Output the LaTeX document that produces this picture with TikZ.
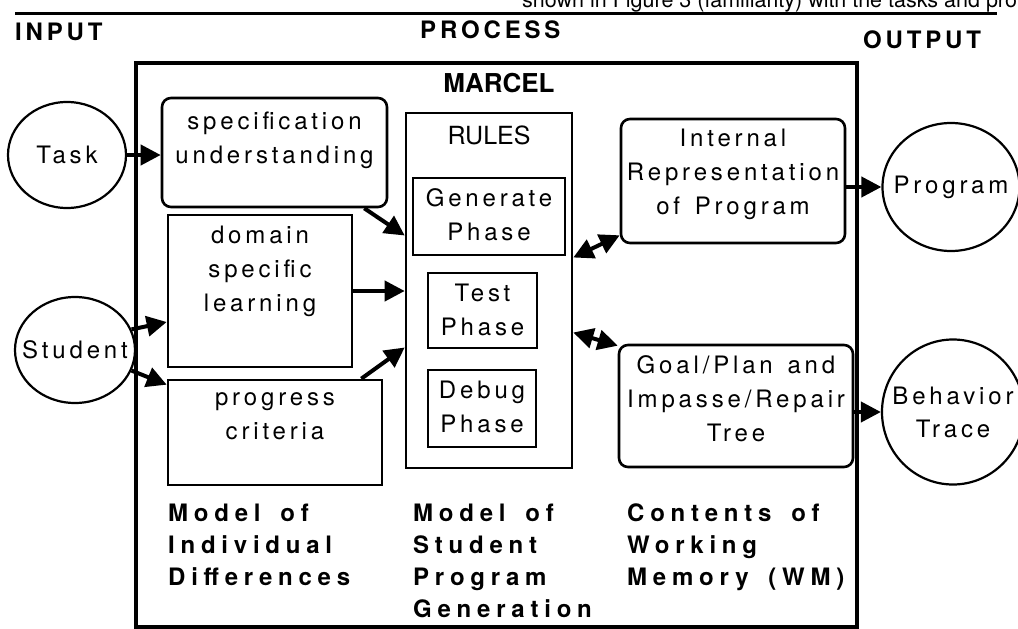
\documentclass[tikz,border=0pt]{standalone}
\usepackage{fontspec}
\setmainfont{TeX Gyre Heros}
\newfontfamily\widefont[LetterSpace=16, WordSpace=1.4]{TeX Gyre Heros}
\newfontfamily\widerfont[LetterSpace=24, WordSpace=1.6]{TeX Gyre Heros}
\usetikzlibrary{positioning,shapes.geometric,arrows.meta}

\tikzset{
  iocircle/.style={draw, ellipse, line width=2.2pt, inner sep=-30pt, align=center,
    font=\widefont\fontsize{24}{33}\selectfont},
  sqbox/.style={draw, line width=2.6pt, inner sep=0pt},
  rndbox/.style={sqbox, rounded corners=9pt},
  boxlabel/.style={inner sep=0pt, align=center, font=\widefont\fontsize{24}{34}\selectfont},
  colnote/.style={inner sep=0pt, align=left, anchor=north west,
    font=\widerfont\bfseries\fontsize{24}{32}\selectfont},
  sidehead/.style={inner sep=0pt, anchor=base west, font=\widefont\bfseries\fontsize{24}{28}\selectfont},
  feed/.style={line width=4pt, -{Triangle[length=20pt,width=20pt]}},
  twoway/.style={line width=4pt, {Triangle[length=20pt,width=20pt]}-{Triangle[length=20pt,width=20pt]}},
}

\begin{document}
\begin{tikzpicture}[x=1pt, y=-1pt]
  \useasboundingbox (0,0) rectangle (1018,629);
  % Page rule with the running text above it
  \node[inner sep=0pt, anchor=base west, font=\fontsize{21.5}{24}\selectfont] (pagetext) at (522,8)
    {shown in Figure 3 (familiarity) with the tasks and pro};
  \draw[line width=3pt] (15,13) -- (997,13);
  % Headings
  \node[sidehead] (input) at (15,40) {INPUT};
  \node[sidehead] (process) at (420,38) {PROCESS};
  \node[sidehead] (output) at (863,48) {OUTPUT};
  % MARCEL frame
  \draw[line width=4.5pt] (136,63) rectangle (857,627);
  \node[inner sep=0pt, anchor=base, font=\bfseries\fontsize{26}{30}\selectfont] (marcel) at (499,92) {MARCEL};
  % Inputs and outputs
  \node[iocircle, minimum width=118pt, minimum height=106pt] (task) at (67,155) {Task};
  \node[iocircle, minimum width=120pt, minimum height=106pt] (student) at (75,350) {Student};
  \node[iocircle, minimum width=137pt, minimum height=128pt] (program) at (951,187) {Program};
  \node[iocircle, minimum width=142pt, minimum height=145pt] (trace) at (953,412) {Behavior\\Trace};
  % Individual differences
  \node[rndbox, minimum width=225pt, minimum height=109pt] (spec) at (274.5,152.5) {};
  \node[boxlabel, below=15pt of spec.north] (spec-l) {specification\\understanding};
  \node[sqbox, minimum width=184pt, minimum height=152pt] (domain) at (260,291) {};
  \node[boxlabel, below=12pt of domain.north] (domain-l) {domain\\specific\\learning};
  \node[sqbox, minimum width=214pt, minimum height=105pt] (progress) at (275,432.5) {};
  \node[boxlabel, below=14pt of progress.north] (progress-l) {progress\\criteria};
  % Rules and phases
  \node[sqbox, minimum width=166pt, minimum height=355pt] (rules) at (489,290.5) {};
  \node[inner sep=0pt, below=14pt of rules.north, font=\fontsize{25}{30}\selectfont] (rules-l) {RULES};
  \node[sqbox, minimum width=152pt, minimum height=77pt] (gen) at (489,216.5) {};
  \node[boxlabel, below=12pt of gen.north] (gen-l) {Generate\\Phase};
  \node[sqbox, minimum width=109pt, minimum height=75pt] (test) at (482.5,310.5) {};
  \node[boxlabel, below=12pt of test.north] (test-l) {Test\\Phase};
  \node[sqbox, minimum width=108pt, minimum height=77pt] (debug) at (482,408.5) {};
  \node[boxlabel, below=12pt of debug.north] (debug-l) {Debug\\Phase};
  % Working memory
  \node[rndbox, minimum width=224pt, minimum height=124pt] (intrep) at (733,181) {};
  \node[boxlabel, below=11pt of intrep.north] (intrep-l) {Internal\\Representation\\of Program};
  \node[rndbox, minimum width=234pt, minimum height=122pt] (goal) at (736,406) {};
  \node[boxlabel, below=12pt of goal.north] (goal-l) {Goal/Plan and\\Impasse/Repair\\Tree};
  % Arrows
  \draw[feed] (task.east) -- (spec.west |- task.east);
  \draw[feed] (student.20) -- ([yshift=-31pt]domain.west);
  \draw[feed] (student.-20) -- ([yshift=-6pt]progress.north west);
  \draw[feed] ([xshift=-24pt]spec.south east) -- ([yshift=55pt]rules.west);
  \draw[feed] (domain.east) -- (rules.west |- domain.east);
  \draw[feed] ([xshift=-22pt]progress.north east) -- ([yshift=-57pt]rules.west);
  \draw[twoway] ([yshift=33pt]rules.east) -- ([yshift=9pt]intrep.south west);
  \draw[twoway] ([yshift=-42pt]rules.east) -- ([yshift=-2pt]goal.north west);
  \draw[feed] (intrep.east |- program.west) -- (program.west);
  \draw[feed] (goal.east |- trace.west) -- (trace.west);
  % Column notes
  \node[colnote] (idiff) at (168,504) {Model of\\Individual\\Differences};
  \node[colnote] (spgen) at (413,504) {Model of\\Student\\Program\\Generation};
  \node[colnote] (wmem) at (627,504) {Contents of\\Working\\Memory (WM)};
\end{tikzpicture}
\end{document}
